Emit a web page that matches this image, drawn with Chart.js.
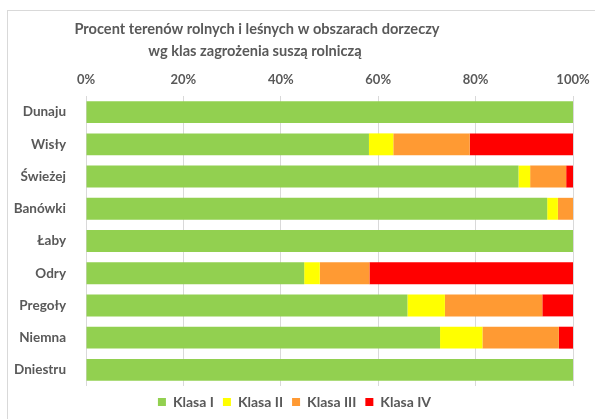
<!DOCTYPE html>
<html>
<head>
<meta charset="utf-8">
<script src="https://cdn.jsdelivr.net/npm/chart.js@4"></script>
<style>
  html, body { margin: 0; padding: 0; background: #fff; }
  #wrap { width: 595px; height: 419px; }
</style>
</head>
<body>
<div id="wrap"><canvas id="chart" width="595" height="419"></canvas></div>
<script>
const categories = ["Dunaju", "Wisły", "Świeżej", "Banówki", "Łaby", "Odry", "Pregoły", "Niemna", "Dniestru"];
const klasa1 = [100, 58.1, 88.8, 94.7, 100, 44.8, 66.0, 72.7, 100];
const klasa2 = [0, 5.0, 2.4, 2.2, 0, 3.2, 7.7, 8.7, 0];
const klasa3 = [0, 15.7, 7.4, 3.1, 0, 10.2, 20.0, 15.7, 0];
const klasa4 = [0, 21.2, 1.4, 0, 0, 41.8, 6.3, 2.9, 0];
const seriesNames = ["Klasa I", "Klasa II", "Klasa III", "Klasa IV"];
const titleLines = ["Procent terenów rolnych i leśnych w obszarach dorzeczy", "wg klas zagrożenia suszą rolniczą"];

const colors = ["#92D050", "#FFFF00", "#FF9A33", "#FF0000"];
const font = "Lato, 'Open Sans', sans-serif";
const grey = "#595959";

// frame + title drawn by hand (title is centred off the canvas middle in the original)
const frameAndTitle = {
  id: "frameAndTitle",
  afterLayout(chart) {
    // legend sits a bit right of centre in the original
    chart.legend.left += 8;
    chart.legend.right += 8;
  },
  beforeDraw(chart) {
    const c = chart.ctx;
    c.save();
    c.strokeStyle = "#d9d9d9";
    c.lineWidth = 1;
    c.strokeRect(7.5, 10.5, 800, 600);
    c.restore();
  },
  afterDraw(chart) {
    const c = chart.ctx;
    c.save();
    c.fillStyle = grey;
    c.font = "bold 14.6px " + font;
    c.textAlign = "center";
    c.textBaseline = "middle";
    c.fillText(titleLines[0], 257, 29);
    c.fillText(titleLines[1], 255, 51);
    c.restore();
  }
};

const data = [klasa1, klasa2, klasa3, klasa4];

new Chart(document.getElementById("chart"), {
  type: "bar",
  data: {
    labels: categories,
    datasets: data.map((d, i) => ({
      label: seriesNames[i],
      data: d,
      backgroundColor: colors[i],
      borderWidth: 0,
      categoryPercentage: 0.68,
      barPercentage: 1
    }))
  },
  options: {
    indexAxis: "y",
    responsive: false,
    animation: false,
    layout: { padding: { left: 0, right: 22, top: 62, bottom: 0 } },
    scales: {
      x: {
        position: "top",
        stacked: true,
        min: 0,
        max: 100,
        ticks: {
          stepSize: 20,
          color: grey,
          font: { family: font, size: 13, weight: "bold" },
          padding: 8,
          callback: v => v + "%"
        },
        grid: { color: "#d9d9d9", drawTicks: false },
        border: { display: false },
        afterFit(s) {
          s.height = 34;
          s.paddingLeft = 0;
          s.paddingRight = 0;
        }
      },
      y: {
        stacked: true,
        ticks: {
          color: grey,
          font: { family: font, size: 13.5, weight: "bold" },
          padding: 12
        },
        grid: { display: false },
        border: { display: false },
        afterFit(s) { s.width = 86; }
      }
    },
    plugins: {
      legend: {
        position: "bottom",
        labels: {
          boxWidth: 8,
          boxHeight: 8,
          color: grey,
          font: { family: font, size: 14, weight: "bold" },
          padding: 9
        }
      },
      tooltip: { enabled: false }
    }
  },
  plugins: [frameAndTitle]
});
</script>
</body>
</html>
